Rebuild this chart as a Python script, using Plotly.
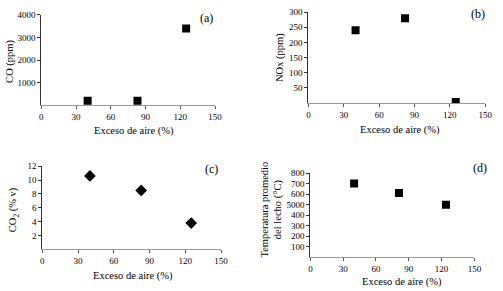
import plotly.graph_objects as go

# Data
exceso_a = [40, 83, 125]
co_ppm = [200, 200, 3400]
exceso_b = [40, 82, 125]
nox_ppm = [240, 280, 3]
exceso_c = [40, 83, 125]
co2_v = [10.6, 8.5, 3.8]
exceso_d = [40, 81, 124]
temp_c = [700, 610, 500]

x_ticks = [0, 30, 60, 90, 120, 150]
a_ticks = [1000, 2000, 3000, 4000]
b_ticks = [50, 100, 150, 200, 250, 300]
c_ticks = [2, 4, 6, 8, 10, 12]
d_ticks = [100, 200, 300, 400, 500, 600, 700, 800]
d_ticktext = ["100", "200", "300", "400", "5000", "600", "700", "800"]

W, H = 503, 291
FONT = "Liberation Serif, Times New Roman, serif"

def px_x(p):
    return p / W

def px_y(p):
    return 1 - p / H

fig = go.Figure()

fig.add_trace(go.Scatter(x=exceso_a, y=co_ppm, mode="markers", xaxis="x", yaxis="y",
                         marker=dict(symbol="square", size=8, color="black")))
fig.add_trace(go.Scatter(x=exceso_b, y=nox_ppm, mode="markers", xaxis="x2", yaxis="y2",
                         marker=dict(symbol="square", size=8, color="black")))
fig.add_trace(go.Scatter(x=exceso_c, y=co2_v, mode="markers", xaxis="x3", yaxis="y3",
                         marker=dict(symbol="diamond", size=9, color="black")))
fig.add_trace(go.Scatter(x=exceso_d, y=temp_c, mode="markers", xaxis="x4", yaxis="y4",
                         marker=dict(symbol="square", size=8, color="black")))

def xaxis(dom, anchor):
    return dict(domain=dom, anchor=anchor, range=[0, 150], tickvals=x_ticks,
                showgrid=False, zeroline=False, showline=True, linecolor="#9a9a9a",
                linewidth=1, ticks="outside", ticklen=3, tickcolor="#555",
                tickfont=dict(family=FONT, size=9, color="black"))

def yaxis(dom, anchor, rng, tv, tt=None):
    d = dict(domain=dom, anchor=anchor, range=rng, tickvals=tv,
             showgrid=False, zeroline=False, showline=True, linecolor="#333",
             linewidth=1, ticks="outside", ticklen=3, tickcolor="#333",
             tickfont=dict(family=FONT, size=9, color="black"))
    if tt is not None:
        d["ticktext"] = tt
    return d

fig.update_layout(
    width=W, height=H,
    margin=dict(l=0, r=0, t=0, b=0),
    paper_bgcolor="white", plot_bgcolor="white",
    showlegend=False,
    font=dict(family=FONT, color="black"),
    xaxis=xaxis([px_x(40), px_x(217)], "y"),
    yaxis=yaxis([px_y(102), px_y(10)], "x", [0, 4000], a_ticks),
    xaxis2=xaxis([px_x(312), px_x(492)], "y2"),
    yaxis2=yaxis([px_y(99.7), px_y(7.3)], "x2", [0, 300], b_ticks),
    xaxis3=xaxis([px_x(41), px_x(223)], "y3"),
    yaxis3=yaxis([px_y(248.7), px_y(164)], "x3", [0, 12], c_ticks),
    xaxis4=xaxis([px_x(314), px_x(481)], "y4"),
    yaxis4=yaxis([px_y(256.7), px_y(171)], "x4", [0, 800], d_ticks, d_ticktext),
)

def ann(text, x, y, size=10.5, angle=0):
    fig.add_annotation(text=text, x=px_x(x), y=px_y(y), xref="paper", yref="paper",
                       showarrow=False, textangle=angle, xanchor="center", yanchor="middle",
                       font=dict(family=FONT, size=size, color="black"))

# panel labels
ann("(a)", 208, 13, size=12)
ann("(b)", 485, 9, size=12)
ann("(c)", 213, 167, size=12)
ann("(d)", 487, 166, size=12)

# x titles
ann("Exceso de aire (%)", 134, 128)
ann("Exceso de aire (%)", 405, 127)
ann("Exceso de aire (%)", 133, 276)
ann("Exceso de aire (%)", 407, 282)

# y titles
ann("CO (ppm)", 8, 57, angle=-90)
ann("NOx (ppm)", 283, 53, angle=-90)
ann("CO<sub>2</sub> (% v)", 12, 208, angle=-90)
ann("Temperatura promedio<br>del lecho (°C)", 275, 208, angle=-90)

fig.write_html(
    "out.html",
    config={"displayModeBar": False},
    post_script="document.body.style.margin='0';document.body.style.padding='0';"
                "document.documentElement.style.overflow='hidden';",
)
